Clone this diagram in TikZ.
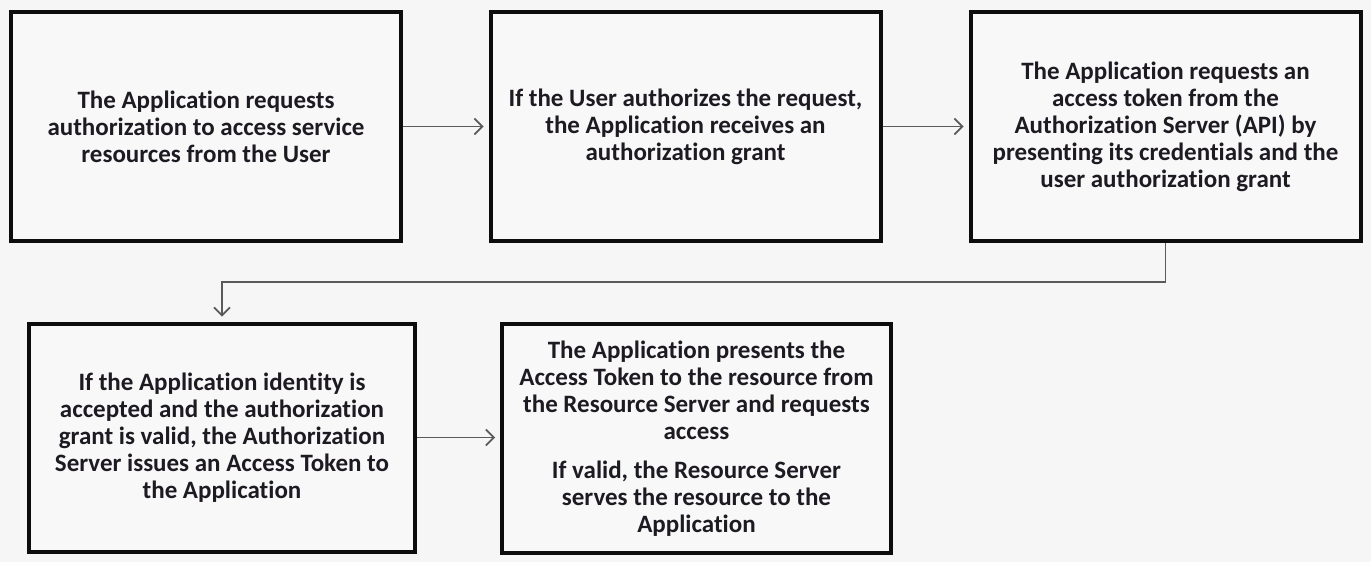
\documentclass[tikz,border=0pt]{standalone}
\usepackage{fontspec}
\setmainfont[Ligatures=NoCommon]{Carlito}
\usetikzlibrary{arrows.meta}
\definecolor{bg}{HTML}{F6F6F6}
\definecolor{boxfill}{HTML}{F8F8F8}
\definecolor{txt}{HTML}{1E1A22}
\definecolor{conn}{HTML}{5A5A5A}
\tikzset{
  stepbox/.style={draw=black!95, line width=4pt, fill=boxfill, text=txt,
    align=center, inner sep=0pt, font=\fontsize{25}{27}\selectfont\bfseries},
  flow/.style={draw=conn, line width=1.6pt,
    -{Straight Barb[length=8pt,width=16pt,line width=1.6pt]}, shorten >=5pt}
}
\begin{document}
\begin{tikzpicture}[x=1pt,y=-1pt]
\useasboundingbox[fill=bg] (0,0) rectangle (1371,562);
\node[stepbox, minimum width=390pt, minimum height=229pt] (b1) at (206,126.5)
  {The Application requests\\authorization to access service\\resources from the User};
\node[stepbox, minimum width=390pt, minimum height=229pt] (b2) at (685.5,126.5)
  {If the User authorizes the request,\\the Application receives an\\authorization grant};
\node[stepbox, minimum width=390pt, minimum height=229pt] (b3) at (1165.5,126.5)
  {The Application requests an\\access token from the\\Authorization Server (API) by\\presenting its credentials and the\\user authorization grant};
\node[stepbox, minimum width=386pt, minimum height=228pt] (b4) at (222,437.5)
  {If the Application identity is\\accepted and the authorization\\grant is valid, the Authorization\\Server issues an Access Token to\\the Application};
\node[stepbox, minimum width=389pt, minimum height=229pt] (b5) at (696.5,438.5)
  {The Application presents the\\Access Token to the resource from\\the Resource Server and requests\\access\\[12pt]If valid, the Resource Server\\serves the resource to the\\Application};
\coordinate (elbow) at (0,282);
\draw[flow] (b1.east) -- (b2.west);
\draw[flow] (b2.east) -- (b3.west);
\draw[flow] (b3.south) -- (b3.south |- elbow) -| (b4.north);
\draw[flow] (b4.east) -- (b4.east -| b5.west);
\end{tikzpicture}
\end{document}
